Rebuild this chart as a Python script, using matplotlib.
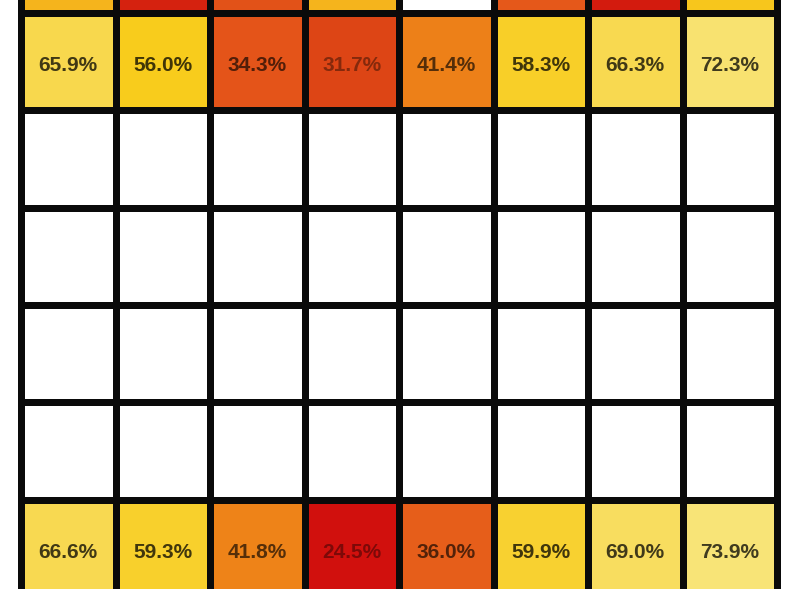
import numpy as np
import matplotlib
matplotlib.use("Agg")
import matplotlib.pyplot as plt
from matplotlib.colors import LinearSegmentedColormap, Normalize, to_rgb

# Data (top row is only partially visible; its values are estimated from colour)
top_row = [48.0, 27.0, 34.0, 48.0, np.nan, 35.0, 26.0, 54.0]
row_a = [65.9, 56.0, 34.3, 31.7, 41.4, 58.3, 66.3, 72.3]
empty = [np.nan] * 8
row_b = [66.6, 59.3, 41.8, 24.5, 36.0, 59.9, 69.0, 73.9]

data = np.array([top_row, row_a, empty, empty, empty, empty, row_b], dtype=float)
labelled_rows = [1, 6]

vmin, vmax = 20.0, 80.0
anchors = [(24.0, "#D00C0C"), (31.0, "#DC4214"), (35.0, "#E5581A"),
           (42.0, "#EE8418"), (48.0, "#F5B41C"), (56.0, "#F8CC1C"),
           (66.0, "#F8D84E"), (74.0, "#F8E478"), (80.0, "#FAEC9A")]
pos = [(v - vmin) / (vmax - vmin) for v, _ in anchors]
cols = [c for _, c in anchors]
cmap = LinearSegmentedColormap.from_list("heat", [(0.0, "#C80808")] + list(zip(pos, cols)), N=256)
cmap.set_bad("white")
norm = Normalize(vmin, vmax)

W, H = 786, 589
fig = plt.figure(figsize=(W / 100, H / 100), dpi=100)
fig.patch.set_facecolor("white")

left_px, right_px = 21.0, 777.0
top_px, bottom_px = 13.0 - 97.3, 13.0 + 97.3 * 6
ax = fig.add_axes([left_px / W, 1 - bottom_px / H,
                   (right_px - left_px) / W, (bottom_px - top_px) / H])

masked = np.ma.masked_invalid(data)
mesh = ax.pcolormesh(np.arange(9), np.arange(8), masked, cmap=cmap, norm=norm,
                     edgecolors="#0a0a0a", linewidth=5.0)
mesh.set_clip_on(False)
ax.set_xlim(0, 8)
ax.set_ylim(7, 0)
ax.axis("off")

for r in labelled_rows:
    for c in range(8):
        v = data[r, c]
        rgb = np.array(to_rgb(cmap(norm(v))))
        lum = 0.299 * rgb[0] + 0.587 * rgb[1] + 0.114 * rgb[2]
        k = 0.26 if lum > 0.6 else (0.36 if lum > 0.45 else 0.6)
        ax.text(c + 0.5, r + 0.54, f"{v:.1f}%", ha="center", va="center",
                fontsize=15, fontweight="bold", family="Liberation Sans",
                color=tuple(rgb * k), clip_on=False)

fig.savefig("out.png", dpi=100, facecolor="white")
